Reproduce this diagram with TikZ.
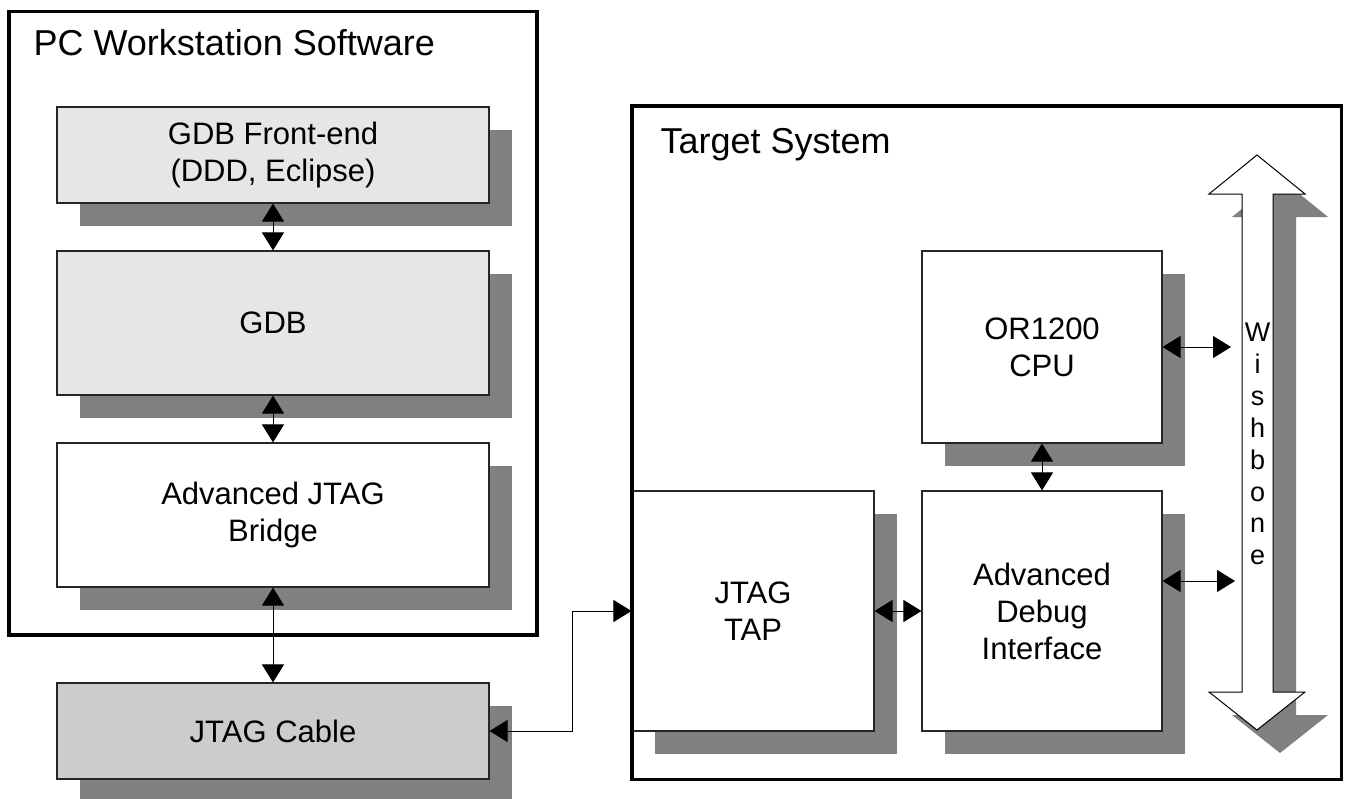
\documentclass[tikz,border=0pt]{standalone}
\usepackage{fontspec}
\setmainfont{Liberation Sans}
\usepackage{xcolor}
\definecolor{shadowgray}{HTML}{808080}
\definecolor{paleg}{HTML}{E6E6E6}
\definecolor{cableg}{HTML}{CCCCCC}
\usetikzlibrary{arrows.meta,shadows}

\begin{document}
\begin{tikzpicture}[
    x=1pt, y=-1pt,
    every node/.style={font=\fontsize{31}{37}\selectfont},
    block/.style={
      draw=black!85, fill=#1, line width=1.1pt, align=center, inner sep=0pt,
      drop shadow={shadow xshift=23pt, shadow yshift=-23pt, fill=shadowgray, draw=none, opacity=1}
    },
    frame/.style={draw=black, line width=3.5pt, inner sep=0pt},
    title/.style={anchor=base west, font=\fontsize{36}{42}\selectfont},
    arr/.style={{Triangle[length=18pt,width=22pt]}-{Triangle[length=18pt,width=22pt]}, line width=1pt},
  ]
  \useasboundingbox (0,0) rectangle (1346,798);

  % host side
  \node[block=paleg, minimum width=432pt, minimum height=96pt] (front) at (273,155) {GDB Front-end\\(DDD, Eclipse)};
  \node[block=paleg, minimum width=432pt, minimum height=144pt] (gdb) at (273,323) {GDB};
  \node[block=white, minimum width=432pt, minimum height=144pt] (bridge) at (273,515) {Advanced JTAG\\Bridge};
  \node[block=cableg, minimum width=432pt, minimum height=96pt] (cable) at (273,731) {JTAG Cable};

  % wishbone bus
  \fill[shadowgray] (1280,178) -- (1328,217) -- (1296,217) -- (1296,715) -- (1328,715) -- (1280,753)
    -- (1232,715) -- (1265,715) -- (1265,217) -- (1232,217) -- cycle;
  \draw[fill=white, line width=1pt] (1257,155) -- (1305,194) -- (1273,194) -- (1273,692) -- (1305,692)
    -- (1257,730) -- (1209,692) -- (1242,692) -- (1242,194) -- (1209,194) -- cycle;
  \node[font=\fontsize{27}{31.9}\selectfont, align=center, inner sep=0pt] (wbtext) at (1257.5,444) {W\\i\\s\\h\\b\\o\\n\\e};
  \coordinate (cpuwb) at (1231,347);
  \coordinate (adiwb) at (1235,581);

  % target side
  \node[block=white, minimum width=240pt, minimum height=192pt] (cpu) at (1042,347) {OR1200\\CPU};
  \node[block=white, minimum width=240pt, minimum height=240pt] (adi) at (1042,611) {Advanced\\Debug\\Interface};
  \node[block=white, minimum width=242pt, minimum height=240pt] (tap) at (753,611) {JTAG\\TAP};

  \draw[arr] (front) -- (gdb);
  \draw[arr] (gdb) -- (bridge);
  \draw[arr] (bridge) -- (cable);
  \draw[arr] (cable.east) -- ++(83,0) |- (tap.west);
  \draw[arr] (tap) -- (adi);
  \draw[arr] (cpu) -- (adi);
  \draw[arr] (cpu.east) -- (cpuwb);
  \draw[arr] ([yshift=30pt]adi.east) -- (adiwb);

  % frames
  \node[frame, minimum width=528pt, minimum height=623.5pt] (pc) at (273,323.25) {};
  \node[frame, minimum width=709.5pt, minimum height=673.5pt] (target) at (986.75,442.75) {};
  \node[title] (pctitle) at (30,55) {PC Workstation Software};
  \node[title] (tgttitle) at (657,153) {Target System};
\end{tikzpicture}
\end{document}
